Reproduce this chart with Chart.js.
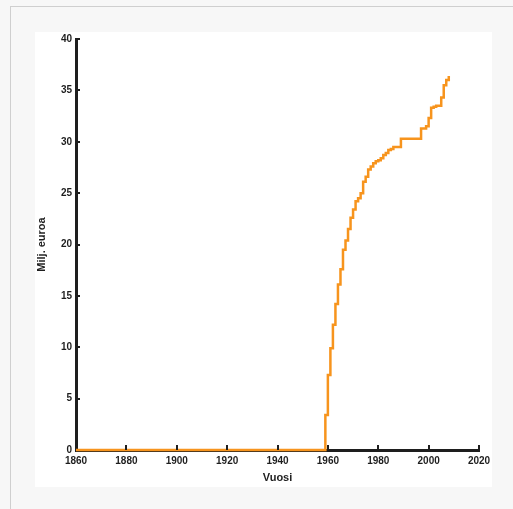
<!DOCTYPE html>
<html>
<head>
<meta charset="utf-8">
<script src="https://cdn.jsdelivr.net/npm/chart.js@4/dist/chart.umd.min.js"></script>
<style>
  html, body { margin:0; padding:0; background:#f7f7f7; width:513px; height:509px; overflow:hidden; }
  .frame { position:absolute; left:10px; top:6px; right:0; bottom:0;
           border-top:1px solid #cfcfcf; border-left:1px solid #cfcfcf; background:#f7f7f7; }
  .card { position:absolute; left:35px; top:32px; width:457px; height:455px; background:#fff; }
  .card canvas { display:block; }
</style>
</head>
<body>
<div class="frame"></div>
<div class="card"><canvas id="kuva" width="457" height="455"></canvas></div>
<script>
  // Vuosittaiset arvot (milj. euroa), luettu kuvasta
  const vuodet = [1860, 1958, 1959, 1960, 1961, 1962, 1963, 1964, 1965, 1966, 1967,
                  1968, 1969, 1970, 1971, 1972, 1973, 1974, 1975, 1976, 1977,
                  1978, 1979, 1980, 1981, 1982, 1983, 1984, 1985, 1986, 1987,
                  1988, 1989, 1990, 1991, 1992, 1993, 1994, 1995, 1996, 1997,
                  1998, 1999, 2000, 2001, 2002, 2003, 2004, 2005, 2006, 2007, 2008];
  const arvot  = [0, 0, 3.4, 7.3, 9.9, 12.2, 14.2, 16.1, 17.6, 19.5, 20.4,
                  21.5, 22.6, 23.4, 24.2, 24.5, 25.0, 26.1, 26.6, 27.3, 27.6,
                  27.9, 28.1, 28.2, 28.4, 28.7, 28.9, 29.2, 29.3, 29.5, 29.5,
                  29.5, 30.3, 30.3, 30.3, 30.3, 30.3, 30.3, 30.3, 30.3, 31.3,
                  31.3, 31.5, 32.3, 33.3, 33.4, 33.5, 33.5, 34.3, 35.5, 36.0, 36.4];
  const xTicks = [1860, 1880, 1900, 1920, 1940, 1960, 1980, 2000, 2020];
  const yTicks = [0, 5, 10, 15, 20, 25, 30, 35, 40];

  (function () {
    'use strict';

    const INK = '#1e1e1e';
    const ORANGE = '#f7941d';
    const FONT = "'Liberation Sans', Arial, sans-serif";

    // sisäänpäin osoittavat tikit
    const innerTicks = {
      id: 'innerTicks',
      afterDraw(chart) {
        const { ctx, chartArea: a, scales: { x, y } } = chart;
        ctx.save();
        ctx.strokeStyle = INK;
        ctx.lineWidth = 2;
        ctx.beginPath();
        xTicks.slice(1).forEach(v => {
          const px = Math.round(x.getPixelForValue(v));
          ctx.moveTo(px, a.bottom);
          ctx.lineTo(px, a.bottom - 5);
        });
        yTicks.slice(1).forEach(v => {
          const py = Math.round(y.getPixelForValue(v));
          ctx.moveTo(a.left, py);
          ctx.lineTo(a.left + 4, py);
        });
        ctx.stroke();
        ctx.restore();
      },
    };

    // ei automaattista reunatilaa tikkiteksteille
    const noPad = s => { s.paddingLeft = 0; s.paddingRight = 0; s.paddingTop = 0; s.paddingBottom = 0; };

    new Chart(document.getElementById('kuva'), {
      type: 'line',
      data: {
        datasets: [{
          data: vuodet.map((v, i) => ({ x: v, y: arvot[i] })),
          borderColor: ORANGE,
          borderWidth: 2.5,
          pointRadius: 0,
          stepped: true,
          clip: false,
          fill: false,
        }],
      },
      options: {
        responsive: false, animation: false,
        layout: { padding: { top: 7, right: 13, left: 0, bottom: 0 } },
        plugins: { legend: { display: false }, tooltip: { enabled: false } },
        scales: {
          x: {
            type: 'linear', min: 1860, max: 2020,
            afterBuildTicks: s => { s.ticks = xTicks.map(v => ({ value: v })); },
            afterFit: s => { s.height = 37; noPad(s); },
            grid: { display: false, drawTicks: false },
            border: { display: true, color: INK, width: 3 },
            ticks: { color: INK, padding: 5, maxRotation: 0, callback: v => String(v),
                     font: { family: FONT, size: 10, weight: 'bold' } },
            title: { display: true, text: 'Vuosi', color: INK,
                     padding: { top: 0, bottom: 2 }, font: { family: FONT, size: 11, weight: 'bold' } },
          },
          y: {
            min: 0, max: 40,
            afterBuildTicks: s => { s.ticks = yTicks.map(v => ({ value: v })); },
            afterFit: s => { s.width = 41; noPad(s); },
            grid: { display: false, drawTicks: false },
            border: { display: true, color: INK, width: 3 },
            ticks: { color: INK, padding: 4, callback: v => String(v),
                     font: { family: FONT, size: 10, weight: 'bold' } },
            title: { display: true, text: 'Milj. euroa', color: INK,
                     padding: 0, font: { family: FONT, size: 11, weight: 'bold' } },
          },
        },
      },
      plugins: [innerTicks],
    });
  })();
</script>
</body>
</html>
